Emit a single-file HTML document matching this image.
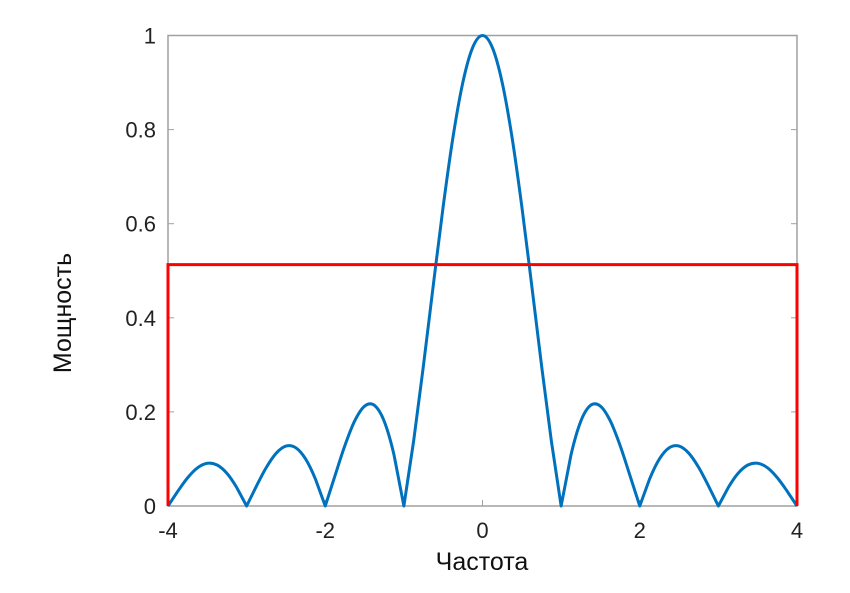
<!DOCTYPE html>
<html><head><meta charset="utf-8">
<style>
html,body{margin:0;padding:0;background:#fff;}
svg{display:block;font-family:"Liberation Sans","DejaVu Sans",sans-serif;}
</style></head>
<body>
<svg id="chart" width="850" height="593" viewBox="0 0 850 593"></svg>
<script>
const xTicks = [-4, -2, 0, 2, 4];
const yTicks = [0, 0.2, 0.4, 0.6, 0.8, 1];
const yTickLabels = ["0", "0.2", "0.4", "0.6", "0.8", "1"];
const halfX = [0,0.125,0.25,0.375,0.5,0.625,0.75,0.875,1,1.125,1.25,1.375,1.5,1.625,1.75,1.875,2,2.125,2.25,2.375,2.5,2.625,2.75,2.875,3,3.125,3.25,3.375,3.5,3.625,3.75,3.875,4];
const halfPower = [1,0.9745,0.9003,0.7842,0.6366,0.4705,0.3001,0.1392,0,0.1083,0.1801,0.2139,0.2122,0.1810,0.1286,0.0650,0,0.0573,0.1000,0.1238,0.1273,0.1120,0.0818,0.0424,0,0.0390,0.0693,0.0871,0.0909,0.0811,0.0600,0.0314,0];
const rectX = [-4, -4, 4, 4];
const rectY = [0, 0.513, 0.513, 0];

const L=168, R=797, T=35.5, B=506;
const sx = v => L + (v + 4) / 8 * (R - L);
const sy = v => B - v * (B - T);
const svg = document.getElementById('chart');
const NS = 'http://www.w3.org/2000/svg';
function mk(tag, attrs, parent){ const e=document.createElementNS(NS,tag); for(const k in attrs) e.setAttribute(k,attrs[k]); (parent||svg).appendChild(e); return e; }

const frame = mk('rect',{x:L,y:T,width:R-L,height:B-T,fill:'none',stroke:'#a0a0a0','stroke-width':1.5});



yTicks.forEach((v,i)=>{
  const t = mk('line',{x1:L,x2:L+6,y1:sy(v),y2:sy(v),stroke:'#a0a0a0','stroke-width':1});
  
  
  const t2 = mk('line',{x1:R,x2:R-6,y1:sy(v),y2:sy(v),stroke:'#a0a0a0','stroke-width':1});
  
  
  const lb = mk('text',{x:L-12,y:sy(v)+8,'text-anchor':'end','font-size':22,fill:'#222'});
  lb.textContent = yTickLabels[i];
  
  
});
xTicks.forEach(v=>{
  const t = mk('line',{x1:sx(v),x2:sx(v),y1:B,y2:B-6,stroke:'#a0a0a0','stroke-width':1});
  
  
  const lb = mk('text',{x:sx(v),y:538,'text-anchor':'middle','font-size':22,fill:'#222'});
  lb.textContent = String(v);
  
  
});

const pts = [];
for(let i=halfX.length-1;i>0;i--) pts.push([-halfX[i], halfPower[i]]);
for(let i=0;i<halfX.length;i++) pts.push([halfX[i], halfPower[i]]);
let d = 'M'+sx(pts[0][0])+','+sy(pts[0][1]);
for(let i=0;i<pts.length-1;i++){
  const p0=pts[Math.max(i-1,0)], p1=pts[i], p2=pts[i+1], p3=pts[Math.min(i+2,pts.length-1)];
  const useCurve = p1[1]!==0 && p2[1]!==0;
  if(!useCurve){ d+=' L'+sx(p2[0])+','+sy(p2[1]); continue; }
  const c1x=sx(p1[0])+(sx(p2[0])-sx(p0[0]))/6, c1y=sy(p1[1])+(sy(p2[1])-sy(p0[1]))/6;
  const c2x=sx(p2[0])-(sx(p3[0])-sx(p1[0]))/6, c2y=sy(p2[1])-(sy(p3[1])-sy(p1[1]))/6;
  d+=' C'+c1x+','+c1y+' '+c2x+','+c2y+' '+sx(p2[0])+','+sy(p2[1]);
}
const curve = mk('path',{d:d,fill:'none',stroke:'#0072bd','stroke-width':3,'stroke-linejoin':'round'});



const rp = rectX.map((x,i)=>sx(x)+','+sy(rectY[i])).join(' ');
const rect = mk('polyline',{points:rp,fill:'none',stroke:'#ff0000','stroke-width':3});



const xl = mk('text',{x:482,y:570,'text-anchor':'middle','font-size':25,fill:'#111'});
xl.textContent='Частота';


const yl = mk('text',{x:0,y:0,'text-anchor':'middle','font-size':25,fill:'#111',transform:'translate(71,313) rotate(-90)'});
yl.textContent='Мощность';


</script>
</body></html>
